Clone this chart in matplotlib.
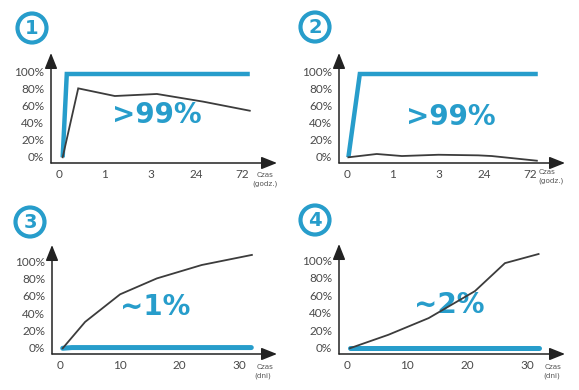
import matplotlib
matplotlib.use("Agg")
import matplotlib.pyplot as plt
from matplotlib.patches import Circle

# ---------------- data ----------------
hour_ticks = [0, 1, 2, 3, 4]
hour_labels = ["0", "1", "3", "24", "72"]
day_ticks = [0, 10, 20, 30]
day_labels = ["0", "10", "20", "30"]
pct_ticks = [0, 20, 40, 60, 80, 100]
pct_labels = ["0%", "20%", "40%", "60%", "80%", "100%"]

p1_blue_x = [0.08, 0.17, 4.17]
p1_blue_y = [-1.5, 96.5, 96.5]
p1_dark_x = [0.08, 0.42, 1.22, 2.14, 3.15, 4.17]
p1_dark_y = [-1.5, 79.6, 70.6, 73, 64, 53.3]

p2_blue_x = [0.03, 0.28, 4.17]
p2_blue_y = [-1.5, 96.5, 96.5]
p2_dark_x = [0.03, 0.65, 1.2, 2.0, 2.87, 3.16, 4.15]
p2_dark_y = [-1.5, 2.4, 0, 1.5, 0.8, 0, -5.5]

p3_blue_x = [0.45, 2.0, 32.0]
p3_blue_y = [-0.3, 0.5, 0.5]
p3_dark_x = [0.45, 4.2, 10.05, 16.2, 23.7, 32.1]
p3_dark_y = [-0.3, 30, 61.7, 80, 95.4, 107]

p4_blue_x = [0.5, 31.9]
p4_blue_y = [0, 0]
p4_dark_x = [0.5, 6.9, 13.6, 21.3, 26.3, 31.9]
p4_dark_y = [-0.3, 15, 34, 64.7, 96.6, 107]

labels_big = [">99%", ">99%", "~1%", "~2%"]
label_pos = [(2.14, 48), (2.27, 46), (15.9, 47), (17.0, 49)]
numbers = ["1", "2", "3", "4"]
unit_labels = ["(godz.)", "(godz.)", "(dni)", "(dni)"]

BLUE = "#279dcb"
DARK = "#3c3c3c"
W, H = 579, 390

fig = plt.figure(figsize=(W / 100, H / 100), dpi=100)
fig.patch.set_facecolor("white")


def add_ax(left, right, top, bottom):
    return fig.add_axes([left / W, 1 - bottom / H, (right - left) / W, (bottom - top) / H])


# axes rectangles in pixels: left(origin x), right (arrow tip), top (arrow tip), bottom (origin y)
ax1 = add_ax(51, 277, 53, 163)
ax1.set_xlim(-0.175, 4.765); ax1.set_ylim(-8.2, 121.2)
ax2 = add_ax(339, 565, 53, 163)
ax2.set_xlim(-0.175, 4.765); ax2.set_ylim(-8.2, 121.2)
ax3 = add_ax(52, 277, 245, 354)
ax3.set_xlim(-1.34, 36.3); ax3.set_ylim(-6.9, 118.4)
ax4 = add_ax(339, 565, 244, 354)
ax4.set_xlim(-1.33, 36.3); ax4.set_ylim(-6.9, 118.4)

axes = [ax1, ax2, ax3, ax4]
series = [
    (p1_blue_x, p1_blue_y, p1_dark_x, p1_dark_y, "butt"),
    (p2_blue_x, p2_blue_y, p2_dark_x, p2_dark_y, "butt"),
    (p3_blue_x, p3_blue_y, p3_dark_x, p3_dark_y, "round"),
    (p4_blue_x, p4_blue_y, p4_dark_x, p4_dark_y, "round"),
]

for i, ax in enumerate(axes):
    bx, by, dx, dy, cap = series[i]
    ax.set_facecolor("none")
    for s in ax.spines.values():
        s.set_visible(False)
    ax.plot(dx, dy, color=DARK, lw=1.3, clip_on=False, zorder=3, solid_joinstyle="miter")
    ax.plot(bx, by, color=BLUE, lw=3.2 if i < 2 else 3.6, clip_on=False, zorder=2,
            solid_capstyle=cap, solid_joinstyle="miter")
    # axis arrows
    for tip in [(1, 0), (0, 1)]:
        ax.annotate("", xy=tip, xytext=(0, 0), xycoords="axes fraction",
                    textcoords="axes fraction",
                    arrowprops=dict(arrowstyle="-|>,head_length=0.95,head_width=0.38",
                                    mutation_scale=10, color="#222222", lw=1.1,
                                    shrinkA=0, shrinkB=0))
    if i < 2:
        ax.set_xticks(hour_ticks, hour_labels)
    else:
        ax.set_xticks(day_ticks, day_labels)
    ax.set_yticks(pct_ticks, pct_labels)
    ax.tick_params(length=0, labelsize=8.5, labelcolor="#4a4a4a")
    ax.tick_params(axis="y", pad=5)
    ax.tick_params(axis="x", pad=4)
    for lab in ax.get_xticklabels() + ax.get_yticklabels():
        lab.set_fontfamily("Lato")
    tx, ty = label_pos[i]
    ax.text(tx, ty, labels_big[i], color=BLUE, fontsize=20, fontweight="bold",
            family="DejaVu Sans", ha="center", va="center", zorder=1)

# overlay in pixel coordinates for badges and unit labels
ov = fig.add_axes([0, 0, 1, 1], zorder=5)
ov.set_xlim(0, W); ov.set_ylim(H, 0); ov.axis("off")
ov.patch.set_alpha(0)
badges = [(32, 28), (315, 27), (30, 222), (315, 220)]
for (cx, cy), num in zip(badges, numbers):
    ov.add_patch(Circle((cx, cy), 14.5, fill=False, ec=BLUE, lw=3.0))
    ov.text(cx, cy + 0.5, num, color=BLUE, fontsize=14, fontweight="bold",
            family="DejaVu Sans", ha="center", va="center")

czas_pos = [(265, 175, 265, 184), (547, 172, 551, 181), (265, 367, 263, 376), (553, 367, 552, 376)]
for (x1, y1, x2, y2), unit in zip(czas_pos, unit_labels):
    ov.text(x1, y1, "Czas", fontsize=5.2, color="#555555", ha="center", va="center")
    ov.text(x2, y2, unit, fontsize=5.2, color="#555555", ha="center", va="center")

fig.savefig("out.png", dpi=100, facecolor="white")
